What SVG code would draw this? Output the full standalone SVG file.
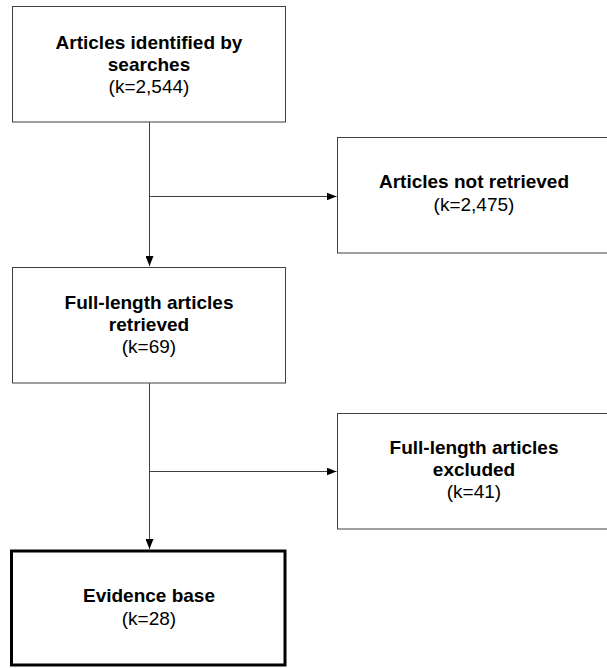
<svg xmlns="http://www.w3.org/2000/svg" width="607" height="668" viewBox="0 0 607 668">
<defs>
<style>
.box{fill:#fff;stroke:#404040;stroke-width:1}
.thick{fill:#fff;stroke:#000;stroke-width:3}
.t{font-family:"Liberation Sans",Arial,sans-serif;font-size:19px;fill:#000;text-anchor:middle}
.b{font-weight:bold}
.c{fill:none;stroke:#404040;stroke-width:1}
</style>
<marker id="ah" markerWidth="10" markerHeight="8" refX="10" refY="4" orient="auto" markerUnits="userSpaceOnUse">
<path d="M0,0 L10,4 L0,8 Z" fill="#000"/>
</marker>
</defs>
<rect width="607" height="668" fill="#fff"/>
<g id="connectors">
<path class="c" d="M149.5,122 V266" marker-end="url(#ah)"/>
<path class="c" d="M149.5,196.5 H336.5" marker-end="url(#ah)"/>
<path class="c" d="M149.5,383 V549" marker-end="url(#ah)"/>
<path class="c" d="M149.5,471.5 H336.5" marker-end="url(#ah)"/>
</g>
<g id="n1">
<rect class="box" x="12.5" y="6.5" width="273" height="115.5"/>
<text class="t b" x="149" y="49">Articles identified by</text>
<text class="t b" x="149" y="71">searches</text>
<text class="t" x="149" y="93">(k=2,544)</text>
</g>
<g id="n2">
<rect class="box" x="337.5" y="137.5" width="280" height="115.5"/>
<text class="t b" x="474" y="188">Articles not retrieved</text>
<text class="t" x="474" y="211">(k=2,475)</text>
</g>
<g id="n3">
<rect class="box" x="12.5" y="267.5" width="273" height="115.5"/>
<text class="t b" x="149" y="309">Full-length articles</text>
<text class="t b" x="149" y="331">retrieved</text>
<text class="t" x="149" y="353">(k=69)</text>
</g>
<g id="n4">
<rect class="box" x="337.5" y="413.5" width="280" height="115.5"/>
<text class="t b" x="474" y="454">Full-length articles</text>
<text class="t b" x="474" y="476">excluded</text>
<text class="t" x="474" y="498">(k=41)</text>
</g>
<g id="n5">
<rect class="thick" x="11.5" y="551" width="273.5" height="114"/>
<text class="t b" x="149" y="602">Evidence base</text>
<text class="t" x="149" y="625">(k=28)</text>
</g>
</svg>
